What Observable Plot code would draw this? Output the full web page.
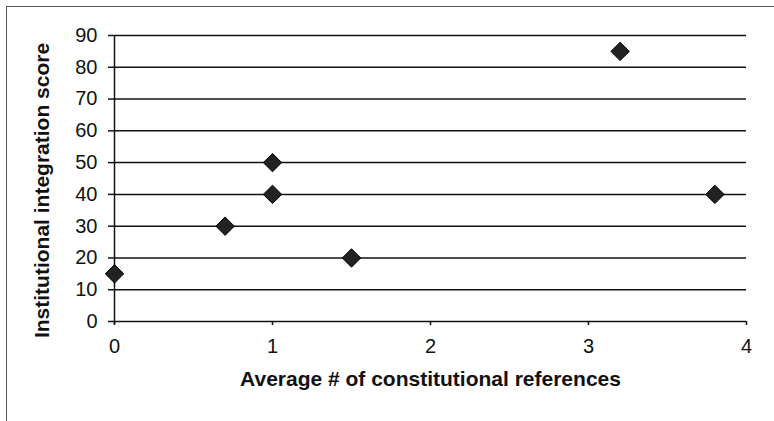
<!DOCTYPE html>
<html>
<head>
<meta charset="utf-8">
<script src="https://cdn.jsdelivr.net/npm/d3@7"></script>
<script src="https://cdn.jsdelivr.net/npm/@observablehq/plot@0.6"></script>
<style>
  html, body { margin: 0; padding: 0; background: #fff; }
  #wrap { position: relative; width: 774px; height: 421px; overflow: hidden; }
  #frame { position: absolute; left: 6px; top: 6px; width: 900px; height: 600px;
           border-top: 1.5px solid #555; border-left: 1.5px solid #555; pointer-events: none; }
  #chart { position: absolute; left: 0; top: 0; }
</style>
</head>
<body>
<div id="wrap"><div id="chart"></div><div id="frame"></div></div>
<script>
const avgRefs = [0, 0.7, 1, 1, 1.5, 3.2, 3.8];
const integrationScore = [15, 30, 50, 40, 20, 85, 40];
const xTicks = [0, 1, 2, 3, 4];
const yTicks = [0, 10, 20, 30, 40, 50, 60, 70, 80, 90];
const xLabel = "Average # of constitutional references";
const yLabel = "Institutional integration score";

const data = avgRefs.map((x, i) => ({x, y: integrationScore[i]}));

const chart = Plot.plot({
  width: 774,
  height: 421,
  marginLeft: 114,
  marginRight: 28,
  marginTop: 35,
  marginBottom: 100,
  style: {fontFamily: "'Liberation Sans', Arial, sans-serif", fontSize: "20px", color: "#111", background: "transparent"},
  x: {domain: [0, 4]},
  y: {domain: [0, 90]},
  marks: [
    Plot.ruleY(yTicks, {stroke: "#111", strokeWidth: 1.5}),
    Plot.ruleX([0], {y1: -1, y2: 90, stroke: "#111", strokeWidth: 1.5}),
    Plot.axisY(yTicks, {label: null, tickSize: 6, tickPadding: 11, tickFormat: "d", stroke: "#111", strokeWidth: 1.5, fontSize: 20, fill: "#111"}),
    Plot.axisX(xTicks, {label: null, tickSize: 4, tickPadding: 13, tickFormat: "d", stroke: "#111", strokeWidth: 1.5, fontSize: 20, fill: "#111"}),
    Plot.dot(data, {x: "x", y: "y", symbol: "diamond2", r: 8.3, fill: "#222", stroke: "#000", strokeWidth: 1}),
    Plot.text([xLabel], {frameAnchor: "bottom", dy: 64, textAnchor: "middle", fontSize: 21, fontWeight: "bold", fill: "#111"}),
    Plot.text([yLabel], {frameAnchor: "left", dx: -72, dy: 12, textAnchor: "middle", rotate: -90, fontSize: 21, fontWeight: "bold", fill: "#111"})
  ]
});
document.getElementById("chart").appendChild(chart);
</script>
</body>
</html>
